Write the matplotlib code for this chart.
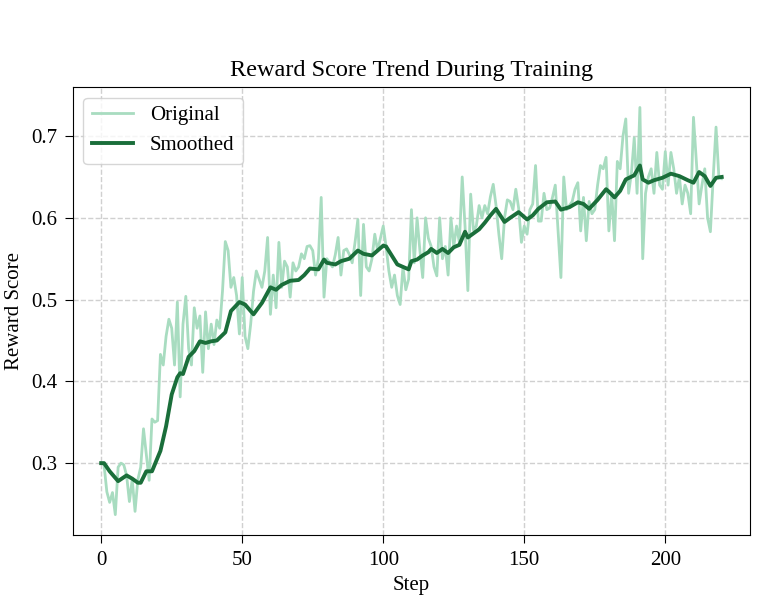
import numpy as np
import matplotlib.pyplot as plt

plt.rcParams['font.family'] = ['Liberation Serif', 'DejaVu Serif']

# raw reward score per step
original = [
    0.300, 0.298, 0.265, 0.252, 0.264, 0.237, 0.295, 0.300, 0.298, 0.285,
    0.253, 0.280, 0.241, 0.280, 0.295, 0.342, 0.310, 0.279, 0.354, 0.350,
    0.352, 0.433, 0.420, 0.455, 0.476, 0.465, 0.420, 0.497, 0.381, 0.470,
    0.504, 0.440, 0.420, 0.490, 0.465, 0.480, 0.411, 0.485, 0.440, 0.470,
    0.445, 0.475, 0.465, 0.510, 0.571, 0.560, 0.515, 0.527, 0.505, 0.458,
    0.527, 0.455, 0.440, 0.470, 0.510, 0.535, 0.525, 0.515, 0.535, 0.576,
    0.482, 0.530, 0.490, 0.570, 0.515, 0.547, 0.540, 0.503, 0.545, 0.535,
    0.540, 0.556, 0.550, 0.565, 0.566, 0.560, 0.530, 0.550, 0.625, 0.503,
    0.550, 0.545, 0.540, 0.555, 0.576, 0.530, 0.560, 0.562, 0.555, 0.545,
    0.570, 0.598, 0.505, 0.592, 0.540, 0.535, 0.550, 0.580, 0.560, 0.575,
    0.590, 0.565, 0.535, 0.515, 0.530, 0.505, 0.494, 0.540, 0.512, 0.525,
    0.610, 0.545, 0.600, 0.560, 0.527, 0.600, 0.575, 0.565, 0.540, 0.529,
    0.600, 0.550, 0.565, 0.530, 0.600, 0.565, 0.590, 0.570, 0.650, 0.590,
    0.511, 0.629, 0.585, 0.590, 0.615, 0.600, 0.615, 0.605, 0.626, 0.641,
    0.615, 0.580, 0.550, 0.600, 0.622, 0.620, 0.610, 0.635, 0.612, 0.570,
    0.590, 0.580, 0.610, 0.617, 0.664, 0.596, 0.596, 0.630, 0.610, 0.612,
    0.625, 0.640, 0.584, 0.527, 0.650, 0.610, 0.615, 0.620, 0.635, 0.643,
    0.584, 0.625, 0.572, 0.620, 0.605, 0.610, 0.640, 0.664, 0.660, 0.674,
    0.584, 0.630, 0.572, 0.669, 0.660, 0.700, 0.721, 0.630, 0.655, 0.698,
    0.630, 0.735, 0.550, 0.630, 0.650, 0.660, 0.630, 0.680, 0.640, 0.635,
    0.681, 0.640, 0.680, 0.660, 0.630, 0.650, 0.617, 0.640, 0.630, 0.605,
    0.723, 0.670, 0.617, 0.640, 0.660, 0.600, 0.583, 0.650, 0.711, 0.650,
    0.648,
]
steps = np.arange(len(original))

# smoothed curve, read at its turning points
smooth_steps = [
    0, 1, 3, 6, 9, 11, 13, 14, 16, 18, 21, 23, 25, 27, 28, 29, 31, 33, 35, 37,
    39, 41, 44, 46, 49, 51, 54, 57, 60, 62, 64, 67, 70, 72, 74, 77, 79, 80, 83,
    85, 88, 91, 93, 96, 100, 101, 103, 105, 107, 109, 110, 112, 114, 116, 117,
    119, 121, 123, 125, 127, 129, 130, 132, 134, 136, 138, 140, 143, 145, 148,
    151, 153, 155, 158, 161, 163, 166, 169, 171, 173, 176, 179, 180, 182, 184,
    186, 189, 191, 192, 194, 196, 199, 202, 205, 208, 210, 212, 214, 216, 218,
    220,
]
smoothed = [
    0.300, 0.300, 0.290, 0.278, 0.285, 0.281, 0.276, 0.276, 0.290, 0.290,
    0.315, 0.345, 0.384, 0.405, 0.410, 0.409, 0.430, 0.437, 0.449, 0.447,
    0.449, 0.450, 0.460, 0.486, 0.497, 0.494, 0.482, 0.496, 0.515, 0.512,
    0.518, 0.523, 0.524, 0.530, 0.538, 0.537, 0.549, 0.545, 0.543, 0.547,
    0.550, 0.560, 0.556, 0.554, 0.566, 0.565, 0.554, 0.543, 0.540, 0.537,
    0.547, 0.549, 0.554, 0.558, 0.562, 0.557, 0.562, 0.557, 0.564, 0.567,
    0.583, 0.576, 0.581, 0.586, 0.594, 0.603, 0.611, 0.595, 0.600, 0.607,
    0.598, 0.603, 0.611, 0.619, 0.620, 0.610, 0.613, 0.619, 0.617, 0.611,
    0.622, 0.635, 0.632, 0.625, 0.633, 0.647, 0.652, 0.664, 0.647, 0.643,
    0.646, 0.649, 0.654, 0.651, 0.646, 0.643, 0.656, 0.651, 0.639, 0.649,
    0.650,
]

fig = plt.figure(figsize=(7.58, 6.02), dpi=100)
ax = fig.add_axes([0.0963, 0.1113, 0.893, 0.744])

ax.plot(steps, original, color='#a8dcc0', linewidth=2, label='Original')
ax.plot(smooth_steps, smoothed, color='#1a6e3a', linewidth=2.8, label='Smoothed')

ax.set_xlim(-10, 230)
ax.set_title('Reward Score Trend During Training', fontsize=17.5, pad=8)
ax.set_xlabel('Step', fontsize=15, labelpad=4)
ax.set_ylabel('Reward Score', fontsize=15, labelpad=5)
ax.tick_params(labelsize=15, length=5.5, pad=6)
ax.grid(True, linestyle='--', color='#d0d0d0', linewidth=1)
ax.legend(loc='upper left', fontsize=15)

plt.savefig('out.png', dpi=100)
